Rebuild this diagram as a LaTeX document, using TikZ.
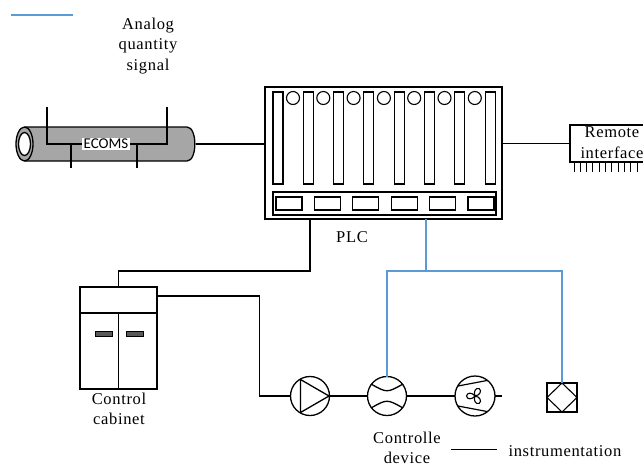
\documentclass[tikz,border=0pt]{standalone}
\usepackage{fontspec}
\setmainfont{Liberation Serif}
\newfontfamily\lblfont[LetterSpace=4]{Liberation Serif}
\newfontfamily\ecomsfont{Carlito}
\usetikzlibrary{calc}
\definecolor{sigblue}{RGB}{91,155,213}
\definecolor{pipegray}{RGB}{166,166,166}
\definecolor{handlegray}{RGB}{89,89,89}
\begin{document}
\begin{tikzpicture}[x=1pt,y=-1pt,line width=1.1pt,
  lbl/.style={font=\lblfont\fontsize{16.5}{20.5}\selectfont,align=center,inner sep=0pt},
  sig/.style={draw=sigblue,line width=1.3pt},
  wire/.style={draw=black,line width=1.2pt},
  dev/.style={circle,draw,minimum size=39pt,inner sep=0pt,outer sep=0pt,line width=1.3pt},
  box/.style={draw,inner sep=0pt,outer sep=0pt,line width=1.2pt}]
\useasboundingbox (0,0) rectangle (643,467);
\clip (0,0) rectangle (643,467);

% legend
\coordinate (lgA) at (11,15);
\coordinate (lgB) at (73,15);
\draw[sig] (lgA) -- (lgB);
\node[lbl] (lgtxt) at (148,46) {Analog\\quantity\\signal};

% ECOMS pipe
\fill[pipegray] (24.5,127) -- (187,127) .. controls (197.5,127) and (197.5,161) .. (187,161) -- (24.5,161) -- cycle;
\draw[line width=1.3pt] (24.5,127) -- (187,127) .. controls (197.5,127) and (197.5,161) .. (187,161) -- (24.5,161);
\draw[line width=1.3pt,fill=pipegray] (24.5,144) ellipse [x radius=8.5, y radius=17];
\draw[line width=1.3pt,fill=white] (24.5,144) ellipse [x radius=6, y radius=11.5];
\coordinate (pipeR) at (195.5,144);
\draw[wire] (47,107) -- (47,144) -- (167,144) -- (167,107);
\draw[wire] (71,144) -- (71,168);
\draw[wire] (137,144) -- (137,168);
\node[fill=white,inner sep=1.5pt,font=\ecomsfont\fontsize{15}{15}\selectfont] (ecoms) at (106,144) {ECOMS};

% PLC
\node[box,minimum width=237pt,minimum height=132pt] (plc) at (383.5,153) {};
\foreach \i in {0,...,7}{
  \draw[line width=1.1pt] ({273+\i*30.3},92) rectangle ({283+\i*30.3},184);
}
\foreach \i in {0,...,6}{
  \draw[line width=1.1pt] ({293+\i*30.3},98) circle [radius=6.5];
}
\draw[line width=1.1pt] (273,192) rectangle (496,215);
\foreach \i in {0,...,5}{
  \draw[line width=1.1pt] ({276+\i*38.4},197) rectangle ({302+\i*38.4},210);
}
\node[lbl] (plclbl) at (352,237) {PLC};

% remote interface
\node[box,minimum width=90pt,minimum height=37pt] (remote) at (615,143.5) {};
\node[lbl] (remtxt) at (612,142.5) {Remote\\interface};
\foreach \i in {0,...,11}{
  \draw[line width=1pt] ($(remote.south west)+({4+\i*6.3},0)$) -- ++(0,10);
}
\draw[wire] (pipeR) -- (pipeR -| plc.west);
\draw[wire] (remote.west) -- (remote.west -| plc.east);

% control cabinet
\node[box,minimum width=77pt,minimum height=102pt] (cab) at (118.5,338) {};
\draw[line width=1.2pt] ($(cab.north west)+(0,26)$) -- ($(cab.north east)+(0,26)$);
\draw[line width=1.2pt] ($(cab.north)+(0,26)$) -- (cab.south);
\draw[fill=handlegray,line width=0.8pt] (95,331.5) rectangle (112,336.5);
\draw[fill=handlegray,line width=0.8pt] (126,331.5) rectangle (143,336.5);
\node[lbl] (cablbl) at (119,409) {Control\\cabinet};

% devices
\node[dev] (pump) at (310,396) {};
\node[dev] (flow) at (387,396) {};
\node[dev,minimum size=40pt] (fan) at (475,396) {};
\node[box,minimum width=30pt,minimum height=29pt,line width=1.1pt] (inst) at (562,397.5) {};
\draw[line width=1.1pt] (inst.north) -- (inst.east) -- (inst.south) -- (inst.west) -- cycle;

\begin{scope}[shift={(pump.center)}]
  \draw[line width=1.3pt,line join=round] (-9.5,-16.5) -- (-9.5,16.5) -- (19,0) -- cycle;
\end{scope}
\begin{scope}[shift={(flow.center)}]
  \draw[line width=1.3pt] (-16,-12) .. controls (0,-3) .. (16,-12);
  \draw[line width=1.3pt] (-16,12) .. controls (0,3) .. (16,12);
\end{scope}
\begin{scope}[shift={(fan.center)}]
  \draw[line width=1.2pt] (-17,-10) -- (12,-15.5);
  \draw[line width=1.2pt] (-17,10) -- (12,15.5);
  \foreach \a in {180,60,-60}{
    \draw[line width=1.1pt,rotate=\a] (0,0) .. controls (3,-4) and (8,-3.5) .. (8.5,0) .. controls (8,3.5) and (3,4) .. (0,0);
  }
\end{scope}

% connections
\draw[wire] ([xshift=45pt]plc.south west) -- ++(0,52) -| (cab.north);
\coordinate (bj) at ($(plc.south west)+(161,52)$);
\draw[sig] ([xshift=161pt]plc.south west) -- (bj);
\draw[sig] (flow.north) |- (bj) -| (inst.north);
\draw[wire] ([yshift=-9pt]cab.north east) -| ([xshift=-31pt]pump.west) -- (pump.west);
\draw[wire] (pump.east) -- (flow.west);
\draw[wire] (flow.east) -- (fan.west);
\coordinate (fanEnd) at ($(fan.east)+(7,0)$);
\draw[wire] (fan.east) -- (fanEnd);

% bottom labels
\node[lbl] (ctrl) at (407,448) {Controlle\\device};
\coordinate (liA) at (451,449);
\coordinate (liB) at (497,449);
\draw[line width=1pt] (liA) -- (liB);
\node[lbl,anchor=west] (instlbl) at (508,451) {instrumentation};
\end{tikzpicture}
\end{document}
